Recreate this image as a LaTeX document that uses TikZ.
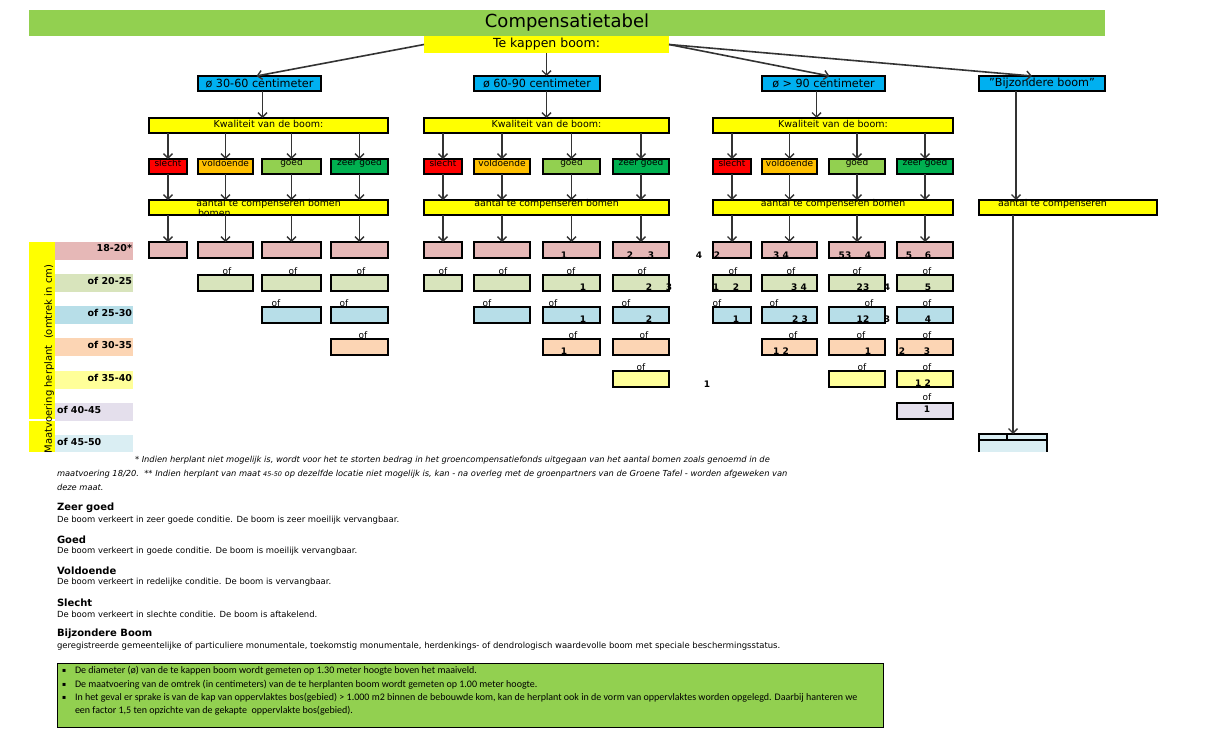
\documentclass[tikz,border=0pt]{standalone}
\usepackage{fontspec}
\setmainfont{DejaVu Sans}
\newfontfamily\carlito{Carlito}
\usetikzlibrary{arrows.meta,calc}
\definecolor{tgreen}{HTML}{92D050}
\definecolor{tyellow}{HTML}{FFFF00}
\definecolor{tblue}{HTML}{00B0F0}
\definecolor{cred}{HTML}{FF0000}
\definecolor{corange}{HTML}{FFC000}
\definecolor{cgreen}{HTML}{92D050}
\definecolor{cdgreen}{HTML}{00B050}
\definecolor{rA}{HTML}{E6B8B7}
\definecolor{rB}{HTML}{D8E4BC}
\definecolor{rC}{HTML}{B7DEE8}
\definecolor{rD}{HTML}{FCD5B4}
\definecolor{rE}{HTML}{FFFF99}
\definecolor{rF}{HTML}{E4DFEC}
\definecolor{rG}{HTML}{DAEEF3}
\newcommand{\fsz}[1]{\fontsize{#1}{#1}\selectfont}
\newcommand{\bx}[6]{\node[box,fill=#6,minimum width=#4*1pt,minimum height=#5*1pt] (#1) at (#2,#3) {};}
\newcommand{\qbox}[5]{\bx{#1}{#2}{159}{#3}{15}{#4}\node[txt] (#1t) at ([yshift=-4pt]#1.north) {#5};}
\begin{document}
\begin{tikzpicture}[x=1pt,y=-1pt,
  box/.style={draw=black,line width=2pt,inner sep=0pt,outer sep=0pt,anchor=north west},
  flat/.style={inner sep=0pt,outer sep=0pt,anchor=north west},
  arr/.style={draw=black!80,line width=1.6pt,-{Straight Barb[length=4.5pt,width=9pt,line width=1.4pt]}},
  txt/.style={inner sep=0pt,outer sep=0pt,font=\fsz{9}},
  num/.style={inner sep=0pt,outer sep=0pt,font=\fsz{9}\bfseries},
  rlab/.style={inner sep=0pt,outer sep=0pt,font=\fsz{9.5}\bfseries},
  desc/.style={inner sep=0pt,outer sep=0pt,anchor=west,font=\fsz{8.45}},
  head/.style={inner sep=0pt,outer sep=0pt,anchor=west,font=\fsz{10}\bfseries},
  foot/.style={inner sep=0pt,outer sep=0pt,anchor=west,font=\fsz{8.3}\itshape},
  bul/.style={inner sep=0pt,outer sep=0pt,anchor=west,font=\carlito\fsz{10}},
]
\path[use as bounding box,fill=white] (0,0) rectangle (1205,732);

% title
\node[flat,fill=tgreen,minimum width=1076pt,minimum height=26pt,font=\fsz{18}] (title) at (29,10) {Compensatietabel};
\node[flat,fill=tyellow,minimum width=245pt,minimum height=17pt,font=\fsz{12.5}] (tk) at (424,36) {Te kappen boom:};

% diameter boxes
\node[box,fill=tblue,minimum width=123pt,minimum height=15pt,font=\fsz{11.2}] (bL) at (198,76) {ø 30-60 centimeter};
\node[box,fill=tblue,minimum width=126pt,minimum height=15pt,font=\fsz{11.2}] (bM) at (474,76) {ø 60-90 centimeter};
\node[box,fill=tblue,minimum width=123pt,minimum height=15pt,font=\fsz{11.2}] (bR) at (762,76) {ø > 90 centimeter};
\node[box,fill=tblue,minimum width=126pt,minimum height=15pt,font=\fsz{11.2}] (bB) at (979,76) {"Bijzondere boom"};

% kwaliteit boxes
\bx{kwL}{149}{118}{239}{15}{tyellow}
\bx{kwM}{424}{118}{245}{15}{tyellow}
\bx{kwR}{713}{118}{240}{15}{tyellow}
\node[txt,font=\fsz{9.5}] (kwLt) at ([yshift=-6pt]kwL.north) {Kwaliteit van de boom:};
\node[txt,font=\fsz{9.5}] (kwMt) at ([yshift=-6pt]kwM.north) {Kwaliteit van de boom:};
\node[txt,font=\fsz{9.5}] (kwRt) at ([yshift=-6pt]kwR.north) {Kwaliteit van de boom:};

% quality boxes
\qbox{qL1}{149}{38}{cred}{slecht}
\qbox{qL2}{198}{55}{corange}{voldoende}
\qbox{qL3}{262}{59}{cgreen}{goed}
\qbox{qL4}{331}{57}{cdgreen}{zeer goed}
\qbox{qM1}{424}{38}{cred}{slecht}
\qbox{qM2}{474}{56}{corange}{voldoende}
\qbox{qM3}{543}{57}{cgreen}{goed}
\qbox{qM4}{613}{56}{cdgreen}{zeer goed}
\qbox{qR1}{713}{38}{cred}{slecht}
\qbox{qR2}{762}{55}{corange}{voldoende}
\qbox{qR3}{829}{56}{cgreen}{goed}
\qbox{qR4}{897}{56}{cdgreen}{zeer goed}

% aantal boxes
\bx{aL}{149}{200}{239}{15}{tyellow}
\bx{aM}{424}{200}{245}{15}{tyellow}
\bx{aR}{713}{200}{240}{15}{tyellow}
\bx{aB}{979}{200}{178}{15}{tyellow}
\node[txt,font=\fsz{9.4}] (aLt) at ([yshift=-3.5pt]aL.north) {aantal te compenseren bomen};
\node[txt,font=\fsz{9.4},anchor=west] (aLt2) at (198,213) {bomen};
\node[txt,font=\fsz{9.4}] (aMt) at ([yshift=-3.5pt]aM.north) {aantal te compenseren bomen};
\node[txt,font=\fsz{9.4}] (aRt) at ([yshift=-3.5pt]aR.north) {aantal te compenseren bomen};
\node[txt,font=\fsz{9.4},anchor=west] (aBt) at (998,203.5) {aantal te compenseren};

% row boxes
\foreach \nn/\xx/\ww/\kk in {L1/149/38/1,L2/198/55/2,L3/262/59/3,L4/331/57/4,M1/424/38/2,M2/474/56/3,M3/543/57/4,M4/613/56/5,R1/713/38/3,R2/762/55/4,R3/829/56/5,R4/897/56/6}{
  \foreach \rr/\yy/\cc in {1/242/rA,2/275/rB,3/307/rC,4/339/rD,5/371/rE,6/403/rF}{
    \ifnum\rr>\kk\relax\else\bx{\nn r\rr}{\xx}{\yy}{\ww}{16}{\cc}\fi
  }
}

% left label column
\node[flat,fill=tyellow,minimum width=26pt,minimum height=177pt] (ylA) at (29,242) {};
\node[flat,fill=tyellow,minimum width=26pt,minimum height=31pt] (ylB) at (29,421) {};
\foreach \yy/\hh/\cc [count=\i] in {242/18/rA,274/18/rB,306/18/rC,338/18/rD,371/18/rE,403/18/rF,435/17/rG}{
  \node[flat,fill=\cc,minimum width=78pt,minimum height=\hh*1pt] (rl\i) at (55,\yy) {};
}
\node[txt,font=\fsz{10},rotate=90] (ylt) at (49,359) {Maatvoering herplant\ \ (omtrek in cm)};
\node[rlab,anchor=east] (rlt1) at (132,248.5) {18-20*};
\node[rlab,anchor=east] (rlt2) at (132,280.5) {of 20-25};
\node[rlab,anchor=east] (rlt3) at (132,312.5) {of 25-30};
\node[rlab,anchor=east] (rlt4) at (132,344.5) {of 30-35};
\node[rlab,anchor=east] (rlt5) at (132,377.5) {of 35-40};
\node[rlab,anchor=west] (rlt6) at (57,409.5) {of 40-45};
\node[rlab,anchor=west] (rlt7) at (57,441.5) {of 45-50};

% special tree box
\node[flat,fill=rG,minimum width=68pt,minimum height=18pt] (r7) at (979,434) {};
\draw[line width=2pt] (r7.south west) -- (r7.north west) -- (r7.north east) -- (r7.south east);
\draw[line width=1.4pt] ([yshift=-6pt]r7.north west) -- ([yshift=-6pt]r7.north east);
\draw[line width=1.4pt] ([xshift=28pt]r7.north west) -- ([xshift=28pt,yshift=-6pt]r7.north west);

% arrows
\draw[arr] (tk.west) -- ([xshift=-3pt]bL.north);
\draw[arr] (tk.south) -- (tk.south |- bM.north);
\draw[arr] (tk.east) -- ([xshift=6pt]bR.north);
\draw[arr] (tk.east) -- ([xshift=-10pt]bB.north);
\draw[arr] ([xshift=3pt]bL.south) -- ([xshift=3pt]bL.south |- kwL.north);
\draw[arr] (bM.south -| tk.south) -- (tk.south |- kwM.north);
\draw[arr] ([xshift=-7pt]bR.south) -- ([xshift=-7pt]bR.south |- kwR.north);
\draw[arr] ([xshift=3pt]bB.south -| r7.north) -- ([xshift=3pt]r7.north |- aB.north);
\draw[arr] (aB.south -| r7.north) -- (r7.north);
\foreach \s in {L,M,R}{\foreach \i in {1,...,4}{
  \draw[arr] (kw\s.south -| q\s\i.north) -- (q\s\i.north);
  \draw[arr] (q\s\i.south) -- (q\s\i.south |- a\s.north);
  \draw[arr] (a\s.south -| \s\i r1.north) -- (\s\i r1.north);
}}

% "of" labels
\foreach \xx/\yy [count=\i] in {227/271,293/271,361/271,443/271,503/271,571/271,642/271,733/271,791/271,857/271,927/271,
  276/303,344/303,487/303,553/303,626/303,717/303,774/303,869/303,927/303,
  363/335,573/335,644/335,793/335,861/335,927/335,
  641/367,862/367,927/367,927/397}{
  \node[txt] (of\i) at (\xx,\yy) {of};
}

% numbers
\foreach \xx/\yy/\lab [count=\i] in {564/255/1,630/255/2,651/255/3,699/255/4,717/255/2,781/255/3 4,845/255/53,868/255/4,909/255/5,928/255/6,
  583/287/1,649/287/2,669/287/3,716/287/1,736/287/2,799/287/3 4,863/287/23,887/287/4,928/287/5,
  583/319/1,649/319/2,736/319/1,800/319/2 3,863/319/12,887/319/3,928/319/4,
  564/351/1,781/351/1 2,868/351/1,902/351/2,927/351/3,
  707/384/1,923/383/1 2,927/409/1}{
  \node[num] (nu\i) at (\xx,\yy) {\lab};
}

% footnote
\node[foot] (fn1) at (135,460) {* Indien herplant niet mogelijk is, wordt voor het te storten bedrag in het groencompensatiefonds uitgegaan van het aantal bomen zoals genoemd in de};
\node[foot] (fn2) at (57,474) {maatvoering 18/20.\ \ ** Indien herplant van maat {\fsz{6.5}45-50} op dezelfde locatie niet mogelijk is, kan - na overleg met de groenpartners van de Groene Tafel - worden afgeweken van};
\node[foot] (fn3) at (57,487) {deze maat.};

% definitions
\node[head] (h1) at (57,508) {Zeer goed};
\node[desc] (d1) at (57,520) {De boom verkeert in zeer goede conditie. De boom is zeer moeilijk vervangbaar.};
\node[head] (h2) at (57,540) {Goed};
\node[desc] (d2) at (57,551) {De boom verkeert in goede conditie. De boom is moeilijk vervangbaar.};
\node[head] (h3) at (57,571) {Voldoende};
\node[desc] (d3) at (57,582) {De boom verkeert in redelijke conditie. De boom is vervangbaar.};
\node[head] (h4) at (57,603) {Slecht};
\node[desc] (d4) at (57,614) {De boom verkeert in slechte conditie. De boom is aftakelend.};
\node[head] (h5) at (57,634) {Bijzondere Boom};
\node[desc] (d5) at (57,646) {geregistreerde gemeentelijke of particuliere monumentale, toekomstig monumentale, herdenkings- of dendrologisch waardevolle boom met speciale beschermingsstatus.};

% green note box
\node[flat,fill=tgreen,draw=black,line width=0.8pt,minimum width=826pt,minimum height=64pt] (gb) at (57,663) {};
\node[flat,anchor=west,font=\fsz{6}] (k1) at (62,671) {▪};
\node[flat,anchor=west,font=\fsz{6}] (k2) at (62,685) {▪};
\node[flat,anchor=west,font=\fsz{6}] (k3) at (62,698) {▪};
\node[bul] (g1) at (75,671) {De diameter (ø) van de te kappen boom wordt gemeten op 1.30 meter hoogte boven het maaiveld.};
\node[bul] (g2) at (75,685) {De maatvoering van de omtrek (in centimeters) van de te herplanten boom wordt gemeten op 1.00 meter hoogte.};
\node[bul] (g3) at (75,698) {In het geval er sprake is van de kap van oppervlaktes bos(gebied) > 1.000 m2 binnen de bebouwde kom, kan de herplant ook in de vorm van oppervlaktes worden opgelegd. Daarbij hanteren we};
\node[bul] (g4) at (75,711) {een factor 1,5 ten opzichte van de gekapte\ \ oppervlakte bos(gebied).};
\end{tikzpicture}
\end{document}
